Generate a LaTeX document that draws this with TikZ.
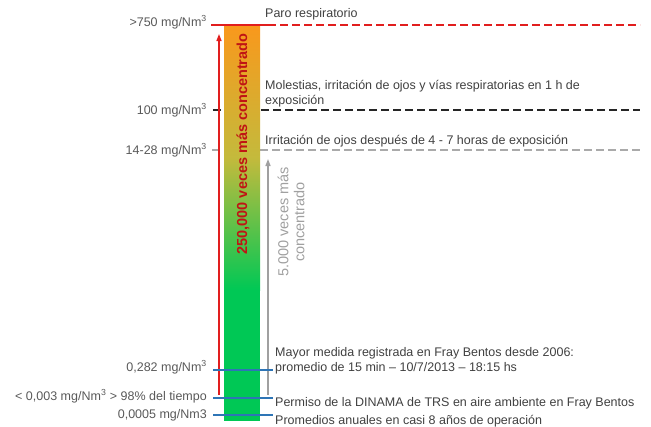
\documentclass[tikz,border=0pt]{standalone}
\usepackage{fontspec}
\setmainfont{Liberation Sans}
\usetikzlibrary{arrows.meta}
\definecolor{lbl}{RGB}{89,89,89}
\definecolor{txt}{RGB}{64,64,64}
\definecolor{redl}{RGB}{225,30,30}
\definecolor{bluel}{RGB}{46,117,182}
\definecolor{grayl}{RGB}{170,170,170}
\definecolor{grayt}{RGB}{160,160,160}
\definecolor{orangeb}{RGB}{249,152,28}
\definecolor{midb}{RGB}{196,186,60}
\definecolor{greenb}{RGB}{0,200,85}
\definecolor{darkred}{RGB}{192,20,20}
\tikzset{
  lvl/.style={anchor=base east, text=lbl, inner sep=0pt},
  desc/.style={anchor=base west, text=txt, inner sep=0pt, align=left},
  dashline/.style={line width=2pt, dash pattern=on 8pt off 4pt},
  blueline/.style={bluel, line width=2.3pt},
  uparrow/.style={line width=1.5pt, -{Triangle[length=7pt,width=5pt]}},
}
\begin{document}
\begin{tikzpicture}[x=1pt,y=-1pt,font=\fontsize{12.5}{14.5}\selectfont]
\useasboundingbox (0,0) rectangle (651,426);
% coordinates
\coordinate (redL) at (211,25);
\coordinate (redM) at (268,25);
\coordinate (redR) at (640,25);
\coordinate (blkL) at (213,110);
\coordinate (blkR) at (640,110);
\coordinate (gryL) at (212,150);
\coordinate (gryR) at (640,150);
% dashed level lines (behind bar)
\draw[black!85, dashline] (blkL) -- (blkR);
\draw[grayl, dashline, line width=1.6pt] (gryL) -- (gryR);
% bar
\shade[top color=orangeb, bottom color=greenb, middle color=midb] (224,25) rectangle (260,290);
\fill[greenb] (224,289.5) rectangle (260,421);
% red top line
\draw[redl, line width=2pt] (redL) -- (redM);
\draw[redl, dashline] (redM) -- (redR);
% arrows
\coordinate (ra0) at (219,395);
\coordinate (ra1) at (219,34);
\coordinate (ga0) at (268,395);
\coordinate (ga1) at (268,159);
\draw[redl, uparrow] (ra0) -- (ra1);
\draw[grayt, uparrow] (ga0) -- (ga1);
% blue lines
\coordinate (b1L) at (213,370); \coordinate (b1R) at (273,370);
\coordinate (b2L) at (213,398); \coordinate (b2R) at (273,398);
\coordinate (b3L) at (213,415); \coordinate (b3R) at (273,415);
\draw[blueline] (b1L) -- (b1R);
\draw[blueline] (b2L) -- (b2R);
\draw[blueline] (b3L) -- (b3R);
% rotated texts
\node[rotate=90, text=darkred, font=\bfseries\fontsize{14.5}{16}\selectfont] (t250) at (243,144) {250,000 veces más concentrado};
\node[rotate=90, text=grayt, align=center, font=\fontsize{14.5}{16}\selectfont] (t5) at (291,222) {5.000 veces más\\concentrado};
% left labels
\node[lvl] (l1) at (207,26) {>750 mg/Nm\textsuperscript{3}};
\node[lvl] (l2) at (207,114) {100 mg/Nm\textsuperscript{3}};
\node[lvl] (l3) at (207,154) {14-28 mg/Nm\textsuperscript{3}};
\node[lvl] (l4) at (207,371) {0,282 mg/Nm\textsuperscript{3}};
\node[lvl] (l5) at (207,400) {< 0,003 mg/Nm\textsuperscript{3} > 98\% del tiempo};
\node[lvl] (l6) at (207,418) {0,0005 mg/Nm3};
% right descriptions (base = last line)
\node[desc] (d1) at (265,17) {Paro respiratorio};
\node[desc] (d2) at (265,104) {Molestias, irritación de ojos y vías respiratorias en 1 h de\\exposición};
\node[desc] (d3) at (265,144) {Irritación de ojos después de 4 - 7 horas de exposición};
\node[desc] (d4) at (275,371) {Mayor medida registrada en Fray Bentos desde 2006:\\promedio de 15 min – 10/7/2013 – 18:15 hs};
\node[desc] (d5) at (275,406) {Permiso de la DINAMA de TRS en aire ambiente en Fray Bentos};
\node[desc] (d6) at (275,424) {Promedios anuales en casi 8 años de operación};
\end{tikzpicture}
\end{document}
